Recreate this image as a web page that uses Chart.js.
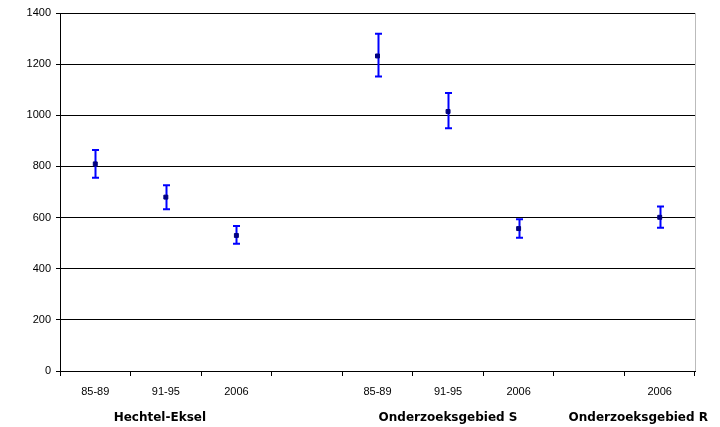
<!DOCTYPE html>
<html lang="nl">
<head>
  <meta charset="UTF-8" />
  <title>Hechtel-Eksel / Onderzoeksgebied</title>
  <style>
    body { margin: 0; padding: 0; background: #fff; }
    #wrap { width: 720px; height: 427px; position: relative; }
  </style>
</head>
<body>
  <div id="wrap"><canvas id="chart"></canvas></div>

  <script src="https://cdn.jsdelivr.net/npm/chart.js"></script>
  <script>
    // Data
    const periods = ['85-89', '91-95', '2006', '', '85-89', '91-95', '2006', '', '2006'];
    const means = [810, 680, 530, null, 1232, 1015, 557, null, 601];
    const lows = [756, 633, 498, null, 1152, 949, 521, null, 560];
    const highs = [864, 726, 567, null, 1319, 1087, 593, null, 643];
    const yTicks = [0, 200, 400, 600, 800, 1000, 1200, 1400];

    // group names, placed under the middle period of each group
    const groups = ['Hechtel-Eksel', 'Onderzoeksgebied S', 'Onderzoeksgebied R'];
    const groupIndex = [1, 5, 8];

    const tickFont = { family: 'Liberation Sans, Arial, sans-serif', size: 11 };

    // error bars + right frame + group captions
    const extras = {
      id: 'extras',
      beforeDatasetsDraw(chart) {
        const c = chart.ctx, x = chart.scales.x, y = chart.scales.y;
        c.save();
        c.strokeStyle = '#0000ff';
        c.lineWidth = 2;
        means.forEach((m, i) => {
          if (m === null) return;
          const px = Math.round(x.getPixelForValue(i)) + 0.5;
          const top = y.getPixelForValue(highs[i]);
          const bot = y.getPixelForValue(lows[i]);
          c.beginPath();
          c.moveTo(px, top); c.lineTo(px, bot);
          c.moveTo(px - 3.5, top); c.lineTo(px + 3.5, top);
          c.moveTo(px - 3.5, bot); c.lineTo(px + 3.5, bot);
          c.stroke();
        });
        c.restore();
      },
      afterDraw(chart) {
        const c = chart.ctx, a = chart.chartArea, x = chart.scales.x;
        c.save();
        c.strokeStyle = '#bbbbbb';
        c.lineWidth = 1;
        c.beginPath();
        c.moveTo(a.right + 0.5, a.top);
        c.lineTo(a.right + 0.5, a.bottom);
        c.stroke();

        c.font = 'bold 12px "DejaVu Sans", Verdana, sans-serif';
        c.fillStyle = '#000';
        c.textBaseline = 'middle';
        c.textAlign = 'center';
        groups.forEach((g, k) => {
          let cx = x.getPixelForValue(groupIndex[k]);
          const w = c.measureText(g).width;
          if (cx + w / 2 > chart.width - 12) cx = chart.width - 12 - w / 2;
          if (k === 0) cx -= 6;
          c.fillText(g, cx, 418);
        });
        c.restore();
      }
    };

    new Chart(document.getElementById('chart'), {
      type: 'line',
      data: {
        labels: periods,
        datasets: [{
          data: means,
          showLine: false,
          pointStyle: 'rect',
          pointRadius: 2.8,
          pointBackgroundColor: '#000080',
          pointBorderColor: '#000080',
          pointBorderWidth: 1
        }]
      },
      options: {
        responsive: true,
        maintainAspectRatio: false,
        animation: false,
        layout: { padding: { top: 13, right: 25, bottom: 0, left: 0 } },
        plugins: { legend: { display: false }, tooltip: { enabled: false } },
        scales: {
          x: {
            type: 'category',
            offset: true,
            afterFit: s => { s.height = 56; },
            grid: { offset: true, drawOnChartArea: false, drawTicks: true, tickLength: 5, color: '#000' },
            border: { color: '#000', width: 1 },
            ticks: { color: '#000', font: tickFont, padding: 9, maxRotation: 0, autoSkip: false }
          },
          y: {
            min: 0,
            max: 1400,
            afterFit: s => { s.width = 60; },
            afterBuildTicks: s => { s.ticks = yTicks.map(v => ({ value: v })); },
            grid: { color: '#000', tickLength: 4, lineWidth: 1 },
            border: { color: '#000', width: 1 },
            ticks: { color: '#000', font: tickFont, padding: 5, callback: v => String(v) }
          }
        }
      },
      plugins: [extras]
    });
  </script>
</body>
</html>
